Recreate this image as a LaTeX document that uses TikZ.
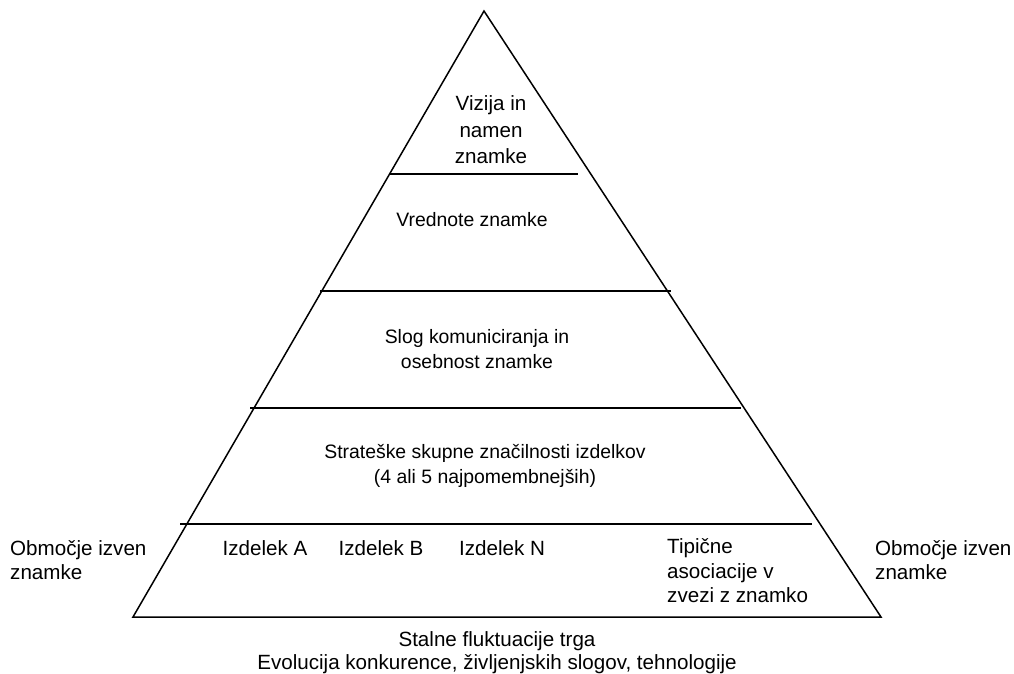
\documentclass[tikz,border=0pt]{standalone}
\usepackage{fontspec}
\setmainfont{Liberation Sans}
\begin{document}
\begin{tikzpicture}[x=1pt,y=-1pt,
  edge/.style={line width=1.5pt, line join=miter},
  layer/.style={line width=1.7pt},
  lbl/.style={font=\fontsize{20.6}{24.5}\selectfont, align=center, inner sep=0pt},
  lbli/.style={font=\fontsize{19.4}{24.5}\selectfont, align=center, inner sep=0pt},
  lbll/.style={font=\fontsize{20.6}{24.5}\selectfont, align=left, inner sep=0pt, anchor=west}]
\useasboundingbox (0,0) rectangle (1014,674);
% triangle
\coordinate (apex) at (484,11);
\coordinate (bl) at (133,617);
\coordinate (br) at (881,617);
\draw[edge] (apex) -- (bl) -- (br) -- cycle;
% layer lines
\coordinate (l1a) at (390,174); \coordinate (l1b) at (578,174);
\coordinate (l2a) at (320,291); \coordinate (l2b) at (671,291);
\coordinate (l3a) at (250,408); \coordinate (l3b) at (741,408);
\coordinate (l4a) at (180,524); \coordinate (l4b) at (812,524);
\draw[layer] (l1a) -- (l1b);
\draw[layer] (l2a) -- (l2b);
\draw[layer] (l3a) -- (l3b);
\draw[layer] (l4a) -- (l4b);
% labels
\node[lbl, font=\fontsize{20.6}{26.5}\selectfont] (vizija) at (491,130) {Vizija in\\namen\\znamke};
\node[lbli] (vrednote) at (472,220) {Vrednote znamke};
\node[lbli] (slog) at (477,349) {Slog komuniciranja in\\osebnost znamke};
\node[lbli] (strat) at (485,466) {Strateške skupne značilnosti izdelkov\\(4 ali 5 najpomembnejših)};
\node[lbl] (izdA) at (265,548) {Izdelek A};
\node[lbl] (izdB) at (381,548) {Izdelek B};
\node[lbl] (izdN) at (502,548) {Izdelek N};
\node[lbll] (tip) at (667,571) {Tipične\\asociacije v\\zvezi z znamko};
\node[lbll] (obmL) at (10,560) {Območje izven\\znamke};
\node[lbll] (obmR) at (875,560) {Območje izven\\znamke};
\node[lbl, font=\fontsize{20.6}{23}\selectfont] (trg) at (497,653) {Stalne fluktuacije trga\\Evolucija konkurence, življenjskih slogov, tehnologije};
\end{tikzpicture}
\end{document}
